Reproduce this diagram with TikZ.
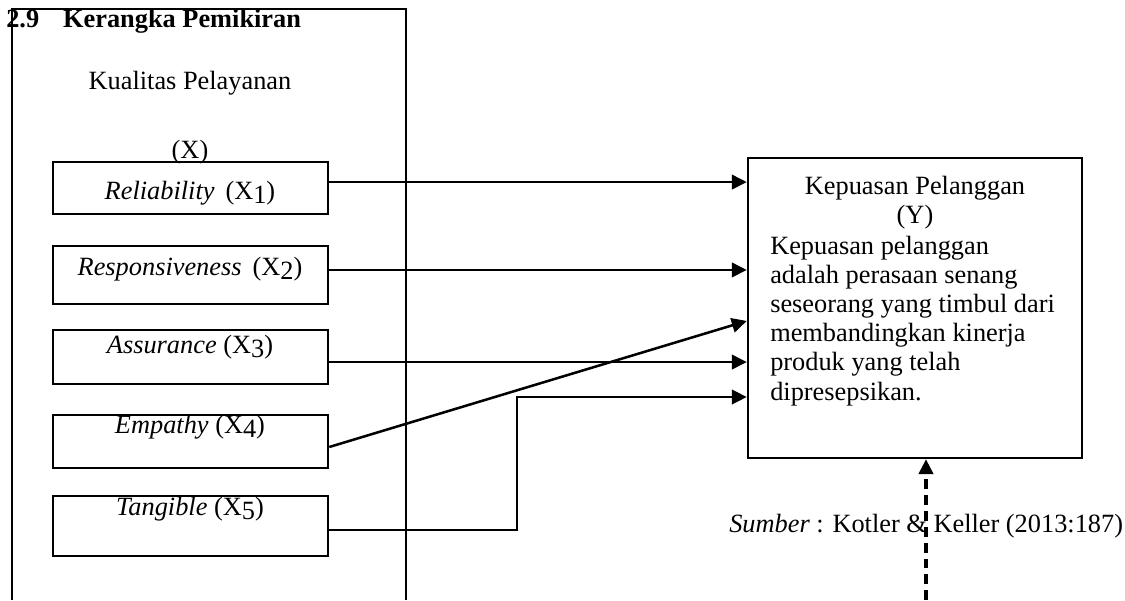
\documentclass[tikz,border=0pt]{standalone}
\usepackage{fontspec}
\setmainfont{Liberation Serif}
\usetikzlibrary{arrows.meta,positioning,fit}

\newcommand{\sbx}[1]{X\raisebox{-0.35ex}{#1}}

\begin{document}
\begin{tikzpicture}[x=0.016cm,y=-0.016cm,font=\fontsize{12}{13.25}\selectfont,
  line width=1.15pt,
  dimbox/.style={draw,rectangle,inner sep=0pt},
  lbl/.style={inner sep=0pt,anchor=base},
  arr/.style={-{Triangle[length=6.8pt,width=6.6pt]}}]

\useasboundingbox (0,0) rectangle (1125,600);

\draw (12,600) -- (12,9) -- (406,9) -- (406,600);
\node[lbl,anchor=base west] (judul) at (5,27) {\textbf{2.9\hspace{10.9pt}Kerangka Pemikiran}};
\node[lbl] (kp) at (190,89) {Kualitas Pelayanan};
\node[lbl] (kx) at (190,158) {(X)};

\node[dimbox,fit={(53,162) (328,214)}] (r1) {};
\node[dimbox,fit={(53,246) (328,304)}] (r2) {};
\node[dimbox,fit={(53,330) (328,384)}] (r3) {};
\node[dimbox,fit={(53,415) (328,468)}] (r4) {};
\node[dimbox,fit={(53,496) (328,556)}] (r5) {};

\node[lbl] at (190,199) {\textit{Reliability}\, (\sbx{1})};
\node[lbl] at (190,275) {\textit{Responsiveness}\, (\sbx{2})};
\node[lbl] at (190,353) {\textit{Assurance} (\sbx{3})};
\node[lbl] at (190,433) {\textit{Empathy} (\sbx{4})};
\node[lbl] at (190,515) {\textit{Tangible} (\sbx{5})};

\node[dimbox,fit={(748,158) (1082,458)}] (ykp) {};
\node[inner sep=0pt,anchor=north,align=center] (yjudul) at (915,175) {Kepuasan Pelanggan\\(Y)};
\node[inner sep=0pt,anchor=north west,align=left] (ydef) at (769,235) {Kepuasan pelanggan\\adalah perasaan senang\\seseorang yang timbul dari\\membandingkan kinerja\\produk yang telah\\dipresepsikan.};

\coordinate (s1) at ([yshift=2.7pt]r1.east);
\coordinate (s2) at ([yshift=2.3pt]r2.east);
\coordinate (s3) at ([yshift=-2.3pt]r3.east);
\coordinate (s4) at ([yshift=-2.5pt]r4.east);
\coordinate (s5) at ([yshift=-1.8pt]r5.east);
\coordinate (t4) at ([yshift=-5.9pt]ykp.west);
\coordinate (k5) at (517,397);

\draw[arr] (s1) -- (s1 -| ykp.west);
\draw[arr] (s2) -- (s2 -| ykp.west);
\draw[arr] (s3) -- (s3 -| ykp.west);
\draw[arr] (s4) -- (t4);
\draw[arr] (s5) -| (k5) -- (k5 -| ykp.west);

\node[lbl,anchor=base west] (sumber) at (728,532) {\textit{Sumber} : Kotler \& Keller (2013:187)};
\coordinate (d0) at (926,600);
\draw[arr,line width=1.4pt,dash pattern=on 4.5pt off 2.7pt] (d0) -- (d0 |- ykp.south);

\end{tikzpicture}
\end{document}
